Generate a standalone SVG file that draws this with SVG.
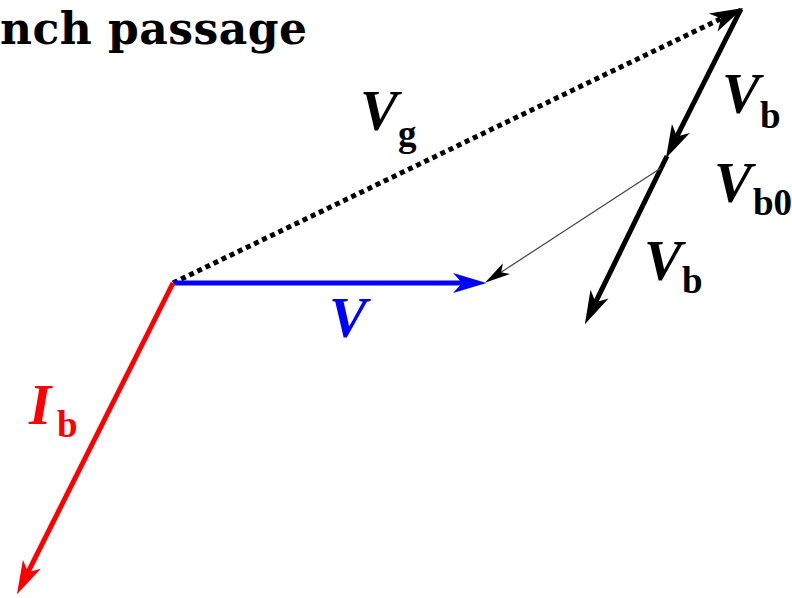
<svg xmlns="http://www.w3.org/2000/svg" width="792" height="598" viewBox="0 0 792 598">
<style>
.title{font-family:"DejaVu Serif","Liberation Serif",serif;font-weight:bold;font-size:44px;fill:#000}
.lbl{font-family:"Liberation Serif","Times New Roman",serif;font-weight:bold;font-style:italic;font-size:57px}
.sub{font-family:"Liberation Serif","Times New Roman",serif;font-weight:bold;font-style:normal;font-size:37px}
.blk{fill:#000}.blu{fill:#0000ff}.red{fill:#ff0000}
</style>
<defs>
<marker id="ab" markerUnits="userSpaceOnUse" markerWidth="40" markerHeight="30" viewBox="-2 -12 36 24" refX="8" refY="0" orient="auto"><path d="M0,-9 L30,0 L0,9 L8,0 Z" fill="#000"/></marker>
<marker id="abl" markerUnits="userSpaceOnUse" markerWidth="40" markerHeight="30" viewBox="-2 -12 36 24" refX="8" refY="0" orient="auto"><path d="M0,-9 L30,0 L0,9 L8,0 Z" fill="#0000ff"/></marker>
<marker id="ar" markerUnits="userSpaceOnUse" markerWidth="40" markerHeight="30" viewBox="-2 -12 36 24" refX="8" refY="0" orient="auto"><path d="M0,-9 L30,0 L0,9 L8,0 Z" fill="#ff0000"/></marker>
<marker id="at" markerUnits="userSpaceOnUse" markerWidth="30" markerHeight="20" viewBox="-2 -8 28 16" refX="6" refY="0" orient="auto"><path d="M0,-6 L24,0 L0,6 L6,0 Z" fill="#000"/></marker>
</defs>
<text class="title" x="0" y="44" textLength="307" lengthAdjust="spacing">nch passage</text>
<g id="connectors" fill="none" stroke-linecap="butt">
<line id="Vg-line" x1="173" y1="283" x2="721.2" y2="18.6" stroke="#000" stroke-width="5" stroke-dasharray="5 4" marker-end="url(#ab)"/>
<line id="Vb-upper" x1="741" y1="9" x2="676.9" y2="136.4" stroke="#000" stroke-width="5" marker-end="url(#ab)"/>
<line id="Vb-lower" x1="667" y1="156" x2="595.6" y2="302.2" stroke="#000" stroke-width="5" marker-end="url(#ab)"/>
<line id="Vb0-line" x1="661" y1="168" x2="501.1" y2="272.2" stroke="#444" stroke-width="1.2" marker-end="url(#at)"/>
<line id="V-line" x1="173" y1="283" x2="462" y2="283" stroke="#0000ff" stroke-width="5" marker-end="url(#abl)"/>
<line id="Ib-line" x1="173" y1="283" x2="27.9" y2="572.3" stroke="#ff0000" stroke-width="5" marker-end="url(#ar)"/>
</g>
<g id="label-Vg"><text class="lbl blk" x="360" y="130">V</text><text class="sub blk" x="398" y="146">g</text></g>
<g id="label-Vb-upper"><text class="lbl blk" x="722" y="113">V</text><text class="sub blk" x="760" y="128">b</text></g>
<g id="label-Vb0"><text class="lbl blk" x="714" y="202">V</text><text class="sub blk" x="753" y="215">b0</text></g>
<g id="label-Vb-lower"><text class="lbl blk" x="644" y="280">V</text><text class="sub blk" x="682" y="293">b</text></g>
<g id="label-V"><text class="lbl blu" x="329" y="337">V</text></g>
<g id="label-Ib"><text class="lbl red" x="29" y="424">I</text><text class="sub red" x="57" y="437">b</text></g>
</svg>
